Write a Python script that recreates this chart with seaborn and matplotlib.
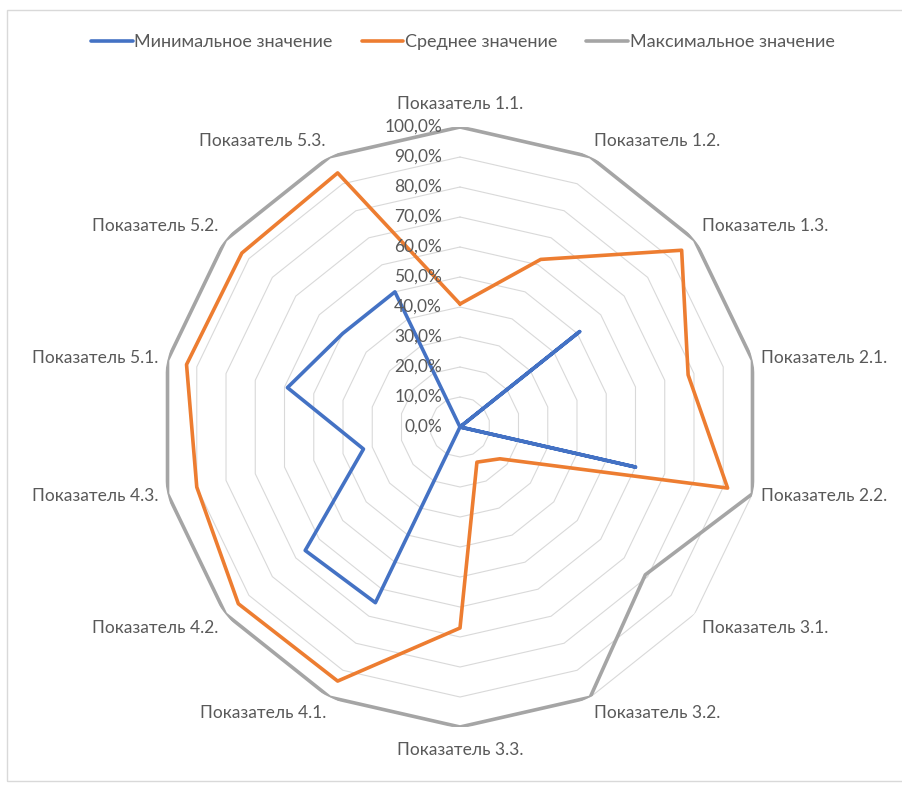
import numpy as np
import matplotlib
matplotlib.use("Agg")
import matplotlib.pyplot as plt
import matplotlib.transforms as mtransforms
from matplotlib.patches import Rectangle
import seaborn as sns

categories = ["Показатель 1.1.", "Показатель 1.2.", "Показатель 1.3.",
              "Показатель 2.1.", "Показатель 2.2.", "Показатель 3.1.",
              "Показатель 3.2.", "Показатель 3.3.", "Показатель 4.1.",
              "Показатель 4.2.", "Показатель 4.3.", "Показатель 5.1.",
              "Показатель 5.2.", "Показатель 5.3."]
min_vals = [0, 0, 51, 0, 60, 0, 0, 0, 65, 66, 33, 59, 50, 50]
mean_vals = [41, 62, 94.5, 78, 91.5, 17, 13, 67, 94, 94.5, 90, 93.5, 93, 94]
max_vals = [100, 100, 100, 100, 100, 79, 100, 100, 100, 100, 100, 100, 100, 100]
series_names = ["Минимальное значение", "Среднее значение", "Максимальное значение"]
r_ticks = [0, 10, 20, 30, 40, 50, 60, 70, 80, 90, 100]

COLORS = ["#4472C4", "#ED7D31", "#A5A5A5"]
GRID = "#D9D9D9"
TEXT = "#595959"

sns.set_theme(style="white")
plt.rcParams["font.family"] = ["Lato", "DejaVu Sans"]

n = len(categories)
angles = np.arange(n) * 2 * np.pi / n
closed = np.append(angles, angles[0])

fig = plt.figure(figsize=(9.02, 7.85), dpi=100)
ax = fig.add_axes([160 / 902, 58 / 785, 600 / 902, 600 / 785], projection="polar")
ax.set_theta_zero_location("N")
ax.set_theta_direction(-1)
ax.set_ylim(0, 100)
ax.grid(False)
ax.spines["polar"].set_visible(False)
ax.set_xticks([])
ax.set_yticks([])

# polygon gridlines
for r in r_ticks[1:]:
    ax.plot(closed, [r] * (n + 1), color=GRID, lw=0.8, zorder=1)

# series
for name, vals, col in zip(series_names, [min_vals, mean_vals, max_vals], COLORS):
    sns.lineplot(x=closed, y=np.append(vals, vals[0]), ax=ax, sort=False,
                 estimator=None, color=col, lw=2.6, label=name, zorder=3)
ax.get_legend().remove()

# radial tick labels
off = mtransforms.offset_copy(ax.transData, fig=fig, x=-18, y=0, units="dots")
for r in r_ticks:
    ax.text(0, r, f"{r:.1f}%".replace(".", ","), transform=off, ha="right",
            va="center", fontsize=12.5, color=TEXT)

# category labels
for a, lab in zip(angles, categories):
    s, c = np.sin(a), np.cos(a)
    ha = "left" if s > 0.05 else ("right" if s < -0.05 else "center")
    va = "bottom" if c > 0.5 else ("top" if c < -0.5 else "center")
    rr = 105 if abs(c) > 0.95 else 103
    ax.text(a, rr, lab, ha=ha, va=va, fontsize=12.5, color=TEXT)

handles, labels = ax.get_legend_handles_labels()
fig.legend(handles, labels, loc="center", bbox_to_anchor=(0.513, 0.946), ncol=3,
           frameon=False, fontsize=13, labelcolor=TEXT, handlelength=2.3,
           handletextpad=0.1, columnspacing=1.6)

fig.add_artist(Rectangle((7 / 902, 4 / 785), 1.0, 771 / 785, transform=fig.transFigure,
                         fill=False, edgecolor=GRID, lw=1))

fig.savefig("out.png", dpi=100)
